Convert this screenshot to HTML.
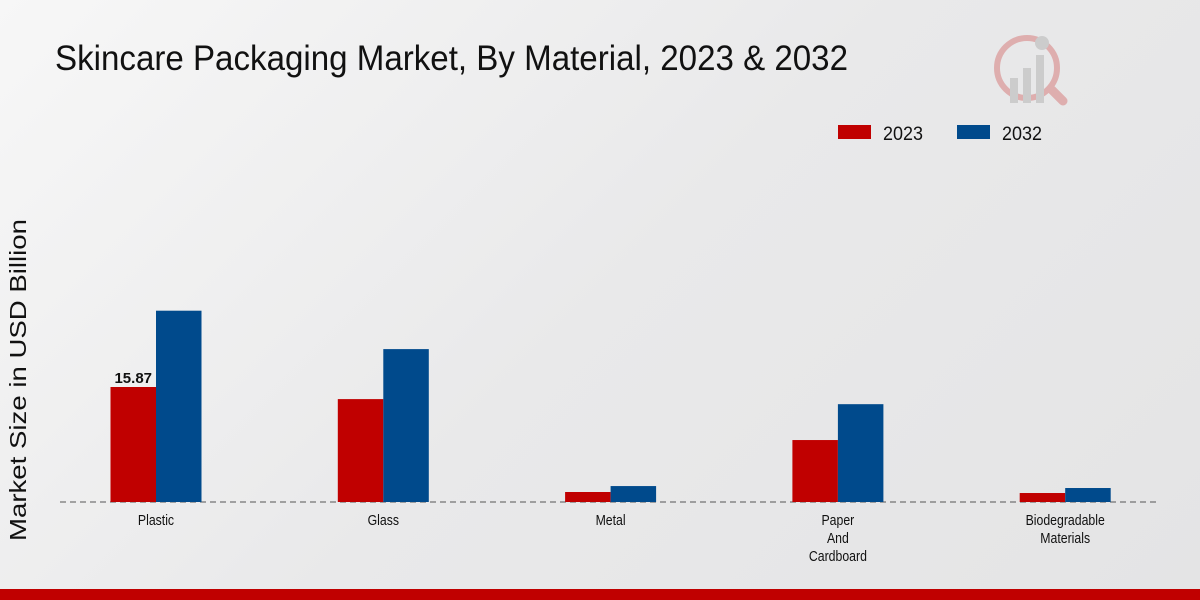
<!DOCTYPE html>
<html><head><meta charset="utf-8"><style>
html,body{margin:0;padding:0;}
body{width:1200px;height:600px;overflow:hidden;background:linear-gradient(135deg,#f7f7f7 0%,#e9e9ea 50%,#e4e4e5 100%);font-family:"Liberation Sans",sans-serif;position:relative;}
</style></head><body>
<svg width="1200" height="600" style="position:absolute;left:0;top:0">
<text x="55" y="70" font-family="Liberation Sans, sans-serif" font-size="35" fill="#111" textLength="793" lengthAdjust="spacingAndGlyphs">Skincare Packaging Market, By Material, 2023 &amp; 2032</text>
<g opacity="0.35">
<circle cx="1027" cy="68" r="30" fill="none" stroke="#c44" stroke-width="6"/>
<rect x="1010" y="78" width="8" height="25" fill="#999"/>
<rect x="1023" y="68" width="8" height="35" fill="#999"/>
<rect x="1036" y="55" width="8" height="48" fill="#999"/>
<circle cx="1042" cy="43" r="7" fill="#999"/>
<line x1="1052" y1="90" x2="1063" y2="101" stroke="#c44" stroke-width="9" stroke-linecap="round"/>
</g>
<g>
<rect x="838" y="125" width="33" height="14" fill="#c00000"/>
<text x="883" y="140" font-size="19" fill="#111" textLength="40" lengthAdjust="spacingAndGlyphs">2023</text>
<rect x="957" y="125" width="33" height="14" fill="#004a8c"/>
<text x="1002" y="140" font-size="19" fill="#111" textLength="40" lengthAdjust="spacingAndGlyphs">2032</text>
</g>
<text transform="translate(26,380) rotate(-90)" text-anchor="middle" font-size="23" fill="#111" textLength="322" lengthAdjust="spacingAndGlyphs">Market Size in USD Billion</text>
<line x1="60" y1="502" x2="1160" y2="502" stroke="#555" stroke-dasharray="6,4"/>
<g id="bars"></g>
<rect x="0" y="589" width="1200" height="11" fill="#c00000"/>
</svg>
<script>
const categories=["Plastic","Glass","Metal","Paper\nAnd\nCardboard","Biodegradable\nMaterials"];
const values2023=[15.87,14.2,1.38,8.55,1.24];
const values2032=[26.4,21.1,2.2,13.5,1.93];
const labelShown=[15.87,null,null,null,null];
const NS="http://www.w3.org/2000/svg";
const g=document.getElementById("bars");
const base=502, scale=115/15.87;
const xC=i=>156+i*227.3;
const yS=v=>base-v*scale;
function mk(t,a){const e=document.createElementNS(NS,t);for(const k in a)e.setAttribute(k,a[k]);g.appendChild(e);return e;}
categories.forEach((c,i)=>{
 const r1=mk("rect",{x:xC(i)-45.5,y:yS(values2023[i]),width:45.5,height:base-yS(values2023[i]),fill:"#c00000"});
 
 
 const r2=mk("rect",{x:xC(i),y:yS(values2032[i]),width:45.5,height:base-yS(values2032[i]),fill:"#004a8c"});
 
 
 c.split("\n").forEach((ln,j)=>{
  const t=mk("text",{x:xC(i),y:525+j*18,"text-anchor":"middle","font-size":"15",fill:"#111",transform:`translate(${xC(i)},0) scale(0.82,1) translate(${-xC(i)},0)`});
  t.textContent=ln;
  
  
 });
 if(labelShown[i]!=null){
  const t=mk("text",{x:xC(i)-22.75,y:yS(values2023[i])-4,"text-anchor":"middle","font-size":"15","font-weight":"bold",fill:"#111"});
  t.textContent=labelShown[i].toFixed(2);
  
  
 }
});
</script>
</body></html>
